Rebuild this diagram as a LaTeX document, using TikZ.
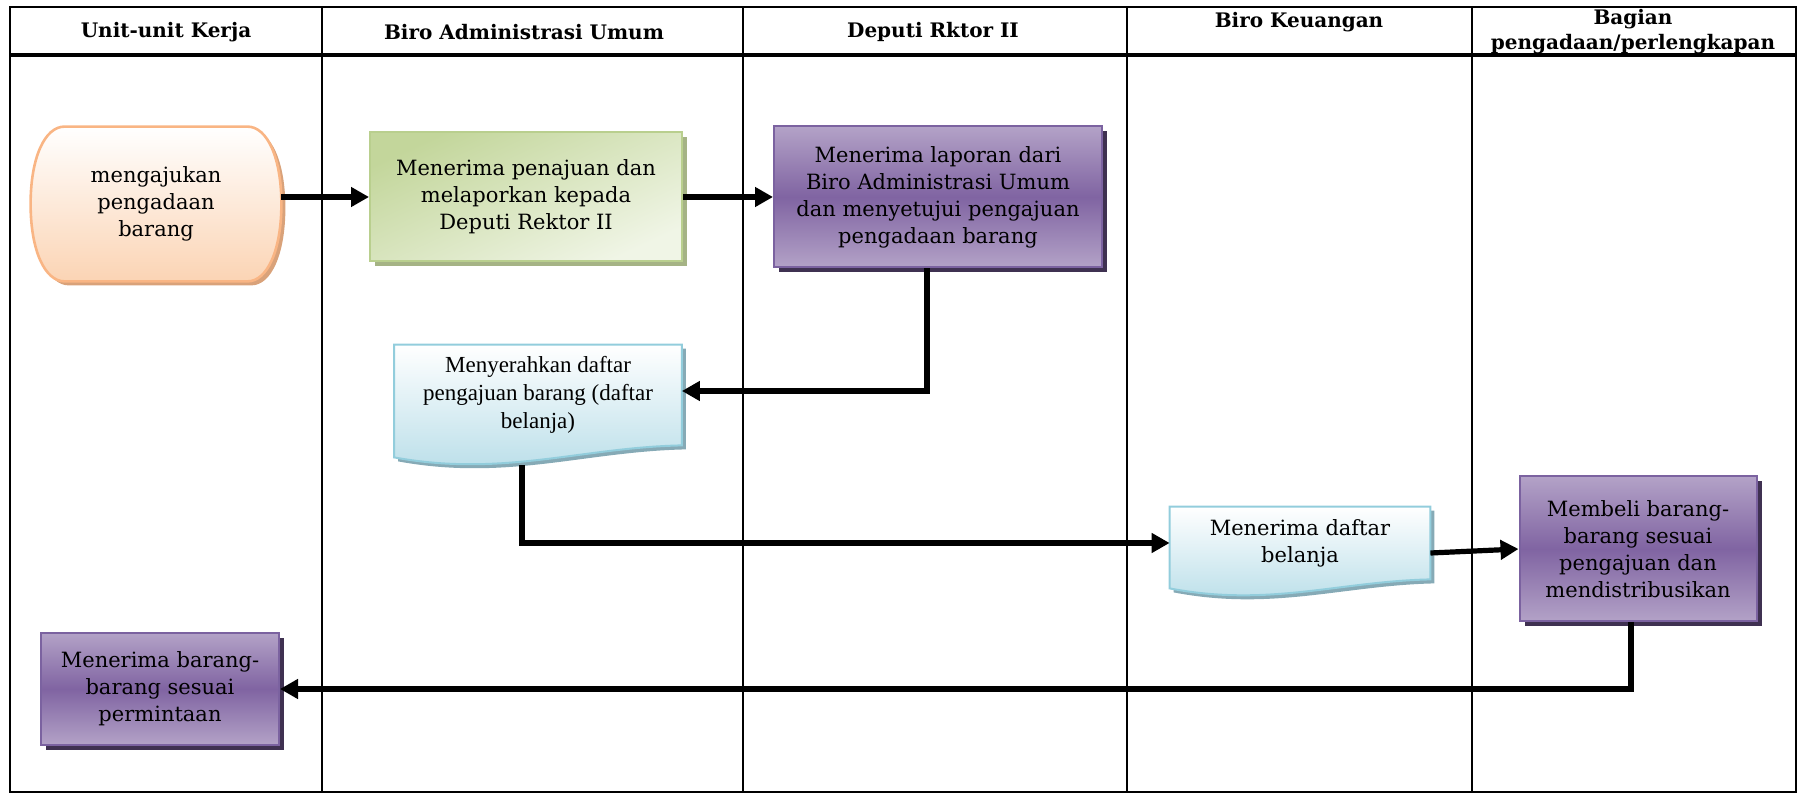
\documentclass[tikz,border=0pt]{standalone}
\usepackage{fontspec}
\setmainfont{DejaVu Serif}
\newfontfamily\timesfont{Liberation Serif}
\usetikzlibrary{arrows.meta,shadows,calc,backgrounds}

\definecolor{purplelight}{HTML}{B3A2C7}
\definecolor{purpledark}{HTML}{8064A2}
\definecolor{purpleedge}{HTML}{7B62A0}
\definecolor{purpleshade}{HTML}{3F3151}
\definecolor{greendark}{HTML}{C3D69B}
\definecolor{greenlight}{HTML}{F0F5E6}
\definecolor{greenedge}{HTML}{B9CF8E}
\definecolor{greenshade}{HTML}{A5B385}
\definecolor{orangeedge}{HTML}{F9B584}
\definecolor{orangefill}{HTML}{FBD4B4}
\definecolor{orangeshade}{HTML}{D9A27A}
\definecolor{docblue}{HTML}{B7DDE8}
\definecolor{docedge}{HTML}{92CDDC}
\definecolor{docshade}{HTML}{86AAB6}

\tikzset{
  arr/.style={line width=2.6pt,-{Triangle[length=9pt,width=9.5pt]}},
  lane/.style={line width=0.8pt},
  head/.style={font=\fontsize{10}{12.5}\selectfont\bfseries,align=center},
  boxtext/.style={align=center,font=\fontsize{10.5}{13.5}\selectfont,inner sep=0pt},
  purplebox/.style={boxtext,rectangle,draw=purpleedge,line width=1pt,
    top color=purplelight,bottom color=purplelight,middle color=purpledark,
    drop shadow={shadow xshift=2.5pt,shadow yshift=-2.5pt,fill=purpleshade,opacity=1}},
  greenbox/.style={boxtext,rectangle,draw=greenedge,line width=1pt,
    top color=greendark,bottom color=greenlight,shading angle=25,
    drop shadow={shadow xshift=2.5pt,shadow yshift=-2.5pt,fill=greenshade,opacity=1}},
  startpath/.style={draw=orangeedge,line width=1.3pt,top color=white,bottom color=orangefill,
    drop shadow={shadow xshift=2pt,shadow yshift=-2pt,fill=orangeshade,opacity=1}},
  docbox/.style={boxtext,rectangle},
  docpath/.style={draw=docedge,line width=1pt,top color=white,bottom color=docblue,
    drop shadow={shadow xshift=2pt,shadow yshift=-2pt,fill=docshade,opacity=1}}
}

\begin{document}
\begin{tikzpicture}[x=0.5pt,y=-0.5pt]
  \useasboundingbox (0,0) rectangle (1798,795);
  % lanes
  \draw[line width=1pt] (10,7) rectangle (1796,792);
  \draw[line width=1.6pt] (10,55) -- (1796,55);
  \foreach \x in {322,743,1127,1472}
    \draw[lane] (\x,7) -- (\x,792);
  \node[head] (h1) at (166,32) {Unit-unit Kerja};
  \node[head] (h2) at (524,32) {Biro Administrasi Umum};
  \node[head] (h3) at (933,32) {Deputi Rktor II};
  \node[head] (h4) at (1299,22) {Biro Keuangan};
  \node[head] (h5) at (1633,32) {Bagian\\pengadaan/perlengkapan};
  % steps
  \node[boxtext,minimum width=125pt,minimum height=77pt] (t) at (156,204)
    {mengajukan\\pengadaan\\barang};
  \node[greenbox,minimum width=156pt,minimum height=64.5pt] (g) at (526,197)
    {Menerima penajuan dan\\melaporkan kepada\\Deputi Rektor II};
  \node[purplebox,minimum width=164pt,minimum height=70.5pt] (p1) at (938,197)
    {Menerima laporan dari\\Biro Administrasi Umum\\dan menyetujui pengajuan\\pengadaan barang};
  \node[docbox,minimum width=143.5pt,minimum height=50pt,font=\timesfont\fontsize{11.5}{14}\selectfont] (d1) at (538,395)
    {Menyerahkan daftar\\pengajuan barang (daftar\\belanja)};
  \node[docbox,minimum width=130pt,minimum height=36pt] (d2) at (1300,543)
    {Menerima daftar\\belanja};
  \node[purplebox,minimum width=118.5pt,minimum height=72.5pt] (p2) at (1638,549)
    {Membeli barang-\\barang sesuai\\pengajuan dan\\mendistribusikan};
  \node[purplebox,minimum width=119pt,minimum height=56pt] (p3) at (160,689)
    {Menerima barang-\\barang sesuai\\permintaan};
  % outlines behind the texts
  \begin{scope}[on background layer]
    \path[startpath] ($(t.north west)+(17pt,0)$) -- ($(t.north east)+(-17pt,0)$)
      .. controls ($(t.north east)+(-7pt,0)$) and ($(t.east)+(0,23pt)$) .. (t.east)
      .. controls ($(t.east)+(0,-23pt)$) and ($(t.south east)+(-7pt,0)$) .. ($(t.south east)+(-17pt,0)$)
      -- ($(t.south west)+(17pt,0)$)
      .. controls ($(t.south west)+(7pt,0)$) and ($(t.west)+(0,-23pt)$) .. (t.west)
      .. controls ($(t.west)+(0,23pt)$) and ($(t.north west)+(7pt,0)$) .. cycle;
    \path[docpath] (d1.north west) -- (d1.north east) -- (d1.south east)
      .. controls ($(d1.south east)!0.35!(d1.south west)+(0,-1pt)$)
      and ($(d1.south east)!0.62!(d1.south west)+(0,-16pt)$)
      .. ($(d1.south west)+(0,-6pt)$) -- cycle;
    \path[docpath] (d2.north west) -- (d2.north east) -- (d2.south east)
      .. controls ($(d2.south east)!0.35!(d2.south west)+(0,-1pt)$)
      and ($(d2.south east)!0.62!(d2.south west)+(0,-14pt)$)
      .. ($(d2.south west)+(0,-4.5pt)$) -- cycle;
  \end{scope}
  \coordinate (d1out) at ([xshift=-8pt,yshift=-10pt]d1.south);
  % flow
  \draw[arr] (t.east |- g.west) -- (g.west);
  \draw[arr] (g.east) -- (p1.west);
  \draw[arr] ([xshift=-5.5pt]p1.south) |- ([yshift=2pt]d1.east);
  \draw[arr] (d1out) |- (d2.west);
  \draw[arr] ([yshift=-5pt]d2.east) -- (p2.west);
  \draw[arr] ([xshift=-3.5pt]p2.south) |- (p3.east);
\end{tikzpicture}
\end{document}
